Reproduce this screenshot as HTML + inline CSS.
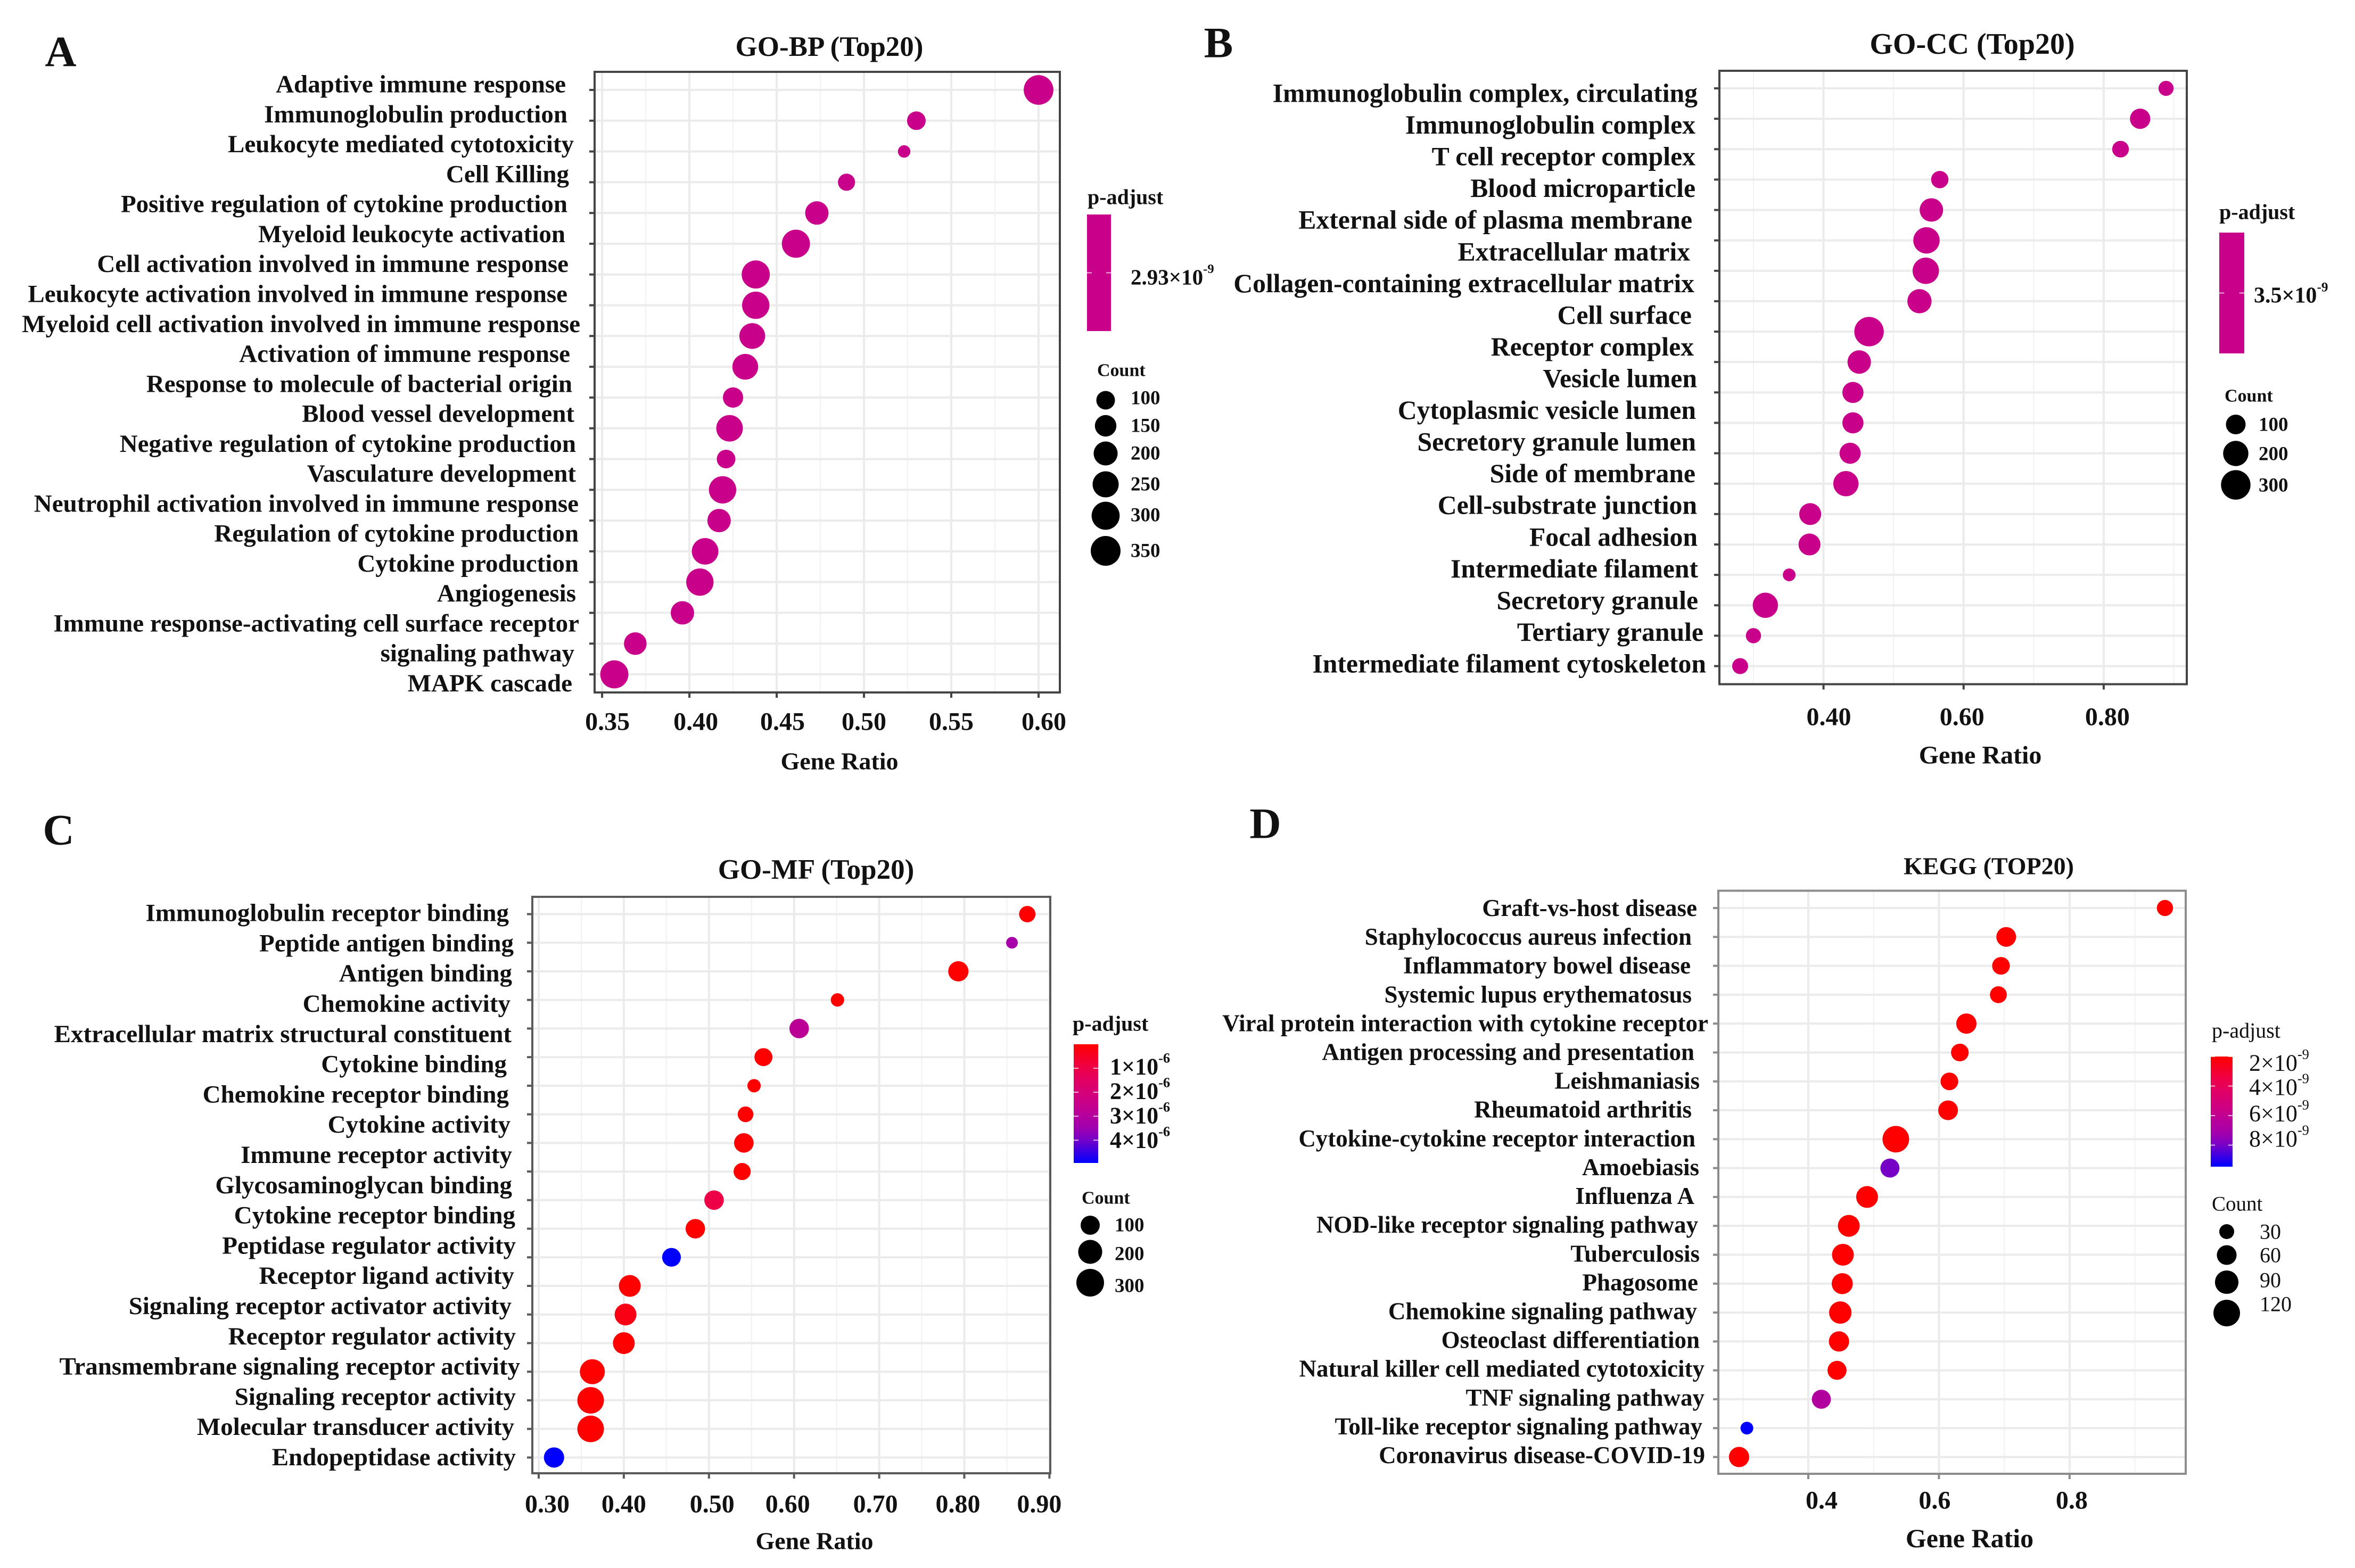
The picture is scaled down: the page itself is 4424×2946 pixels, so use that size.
<!DOCTYPE html>
<html lang="en">
<head>
<meta charset="utf-8">
<title>GO and KEGG enrichment dot plots</title>
<style>
html,body{margin:0;padding:0;background:#fff;}
svg{display:block;}
text{font-family:"Liberation Serif","Times New Roman",serif;fill:#111;}
</style>
</head>
<body>
<svg id="figure" xmlns="http://www.w3.org/2000/svg" width="4424" height="2946" viewBox="0 0 4424 2946"><rect x="0" y="0" width="4424" height="2946" fill="#ffffff"/></svg>
<script>
// ---------- GO-BP data ----------
const bpCategories = ['Adaptive immune response','Immunoglobulin production','Leukocyte mediated cytotoxicity','Cell Killing','Positive regulation of cytokine production','Myeloid leukocyte activation','Cell activation involved in immune response','Leukocyte activation involved in immune response','Myeloid cell activation involved in immune response','Activation of immune response','Response to molecule of bacterial origin','Blood vessel development','Negative regulation of cytokine production','Vasculature development','Neutrophil activation involved in immune response','Regulation of cytokine production','Cytokine production','Angiogenesis','Immune response-activating cell surface receptor','signaling pathway','MAPK cascade'];
const bpGeneRatio = [0.600,0.530,0.523,0.490,0.473,0.461,0.438,0.438,0.436,0.432,0.425,0.423,0.421,0.419,0.417,0.409,0.406,0.396,0.369,0.357];
const bpCount = [346,100,27,78,188,303,303,282,242,242,128,262,100,282,188,262,282,188,172,303];
const bpPadjust = [2.93e-9,2.93e-9,2.93e-9,2.93e-9,2.93e-9,2.93e-9,2.93e-9,2.93e-9,2.93e-9,2.93e-9,2.93e-9,2.93e-9,2.93e-9,2.93e-9,2.93e-9,2.93e-9,2.93e-9,2.93e-9,2.93e-9,2.93e-9];
const bpXTicks = [0.35,0.40,0.45,0.50,0.55,0.60];
const bpXTickLabels = ['0.35','0.40','0.45','0.50','0.55','0.60'];
const bpPadjustTicks = [2.93e-9];
const bpPadjustLabels = ['2.93×10^-9'];
const bpLegendCounts = [100,150,200,250,300,350];

// ---------- GO-CC data ----------
const ccCategories = ['Immunoglobulin complex, circulating','Immunoglobulin complex','T cell receptor complex','Blood microparticle','External side of plasma membrane','Extracellular matrix','Collagen-containing extracellular matrix','Cell surface','Receptor complex','Vesicle lumen','Cytoplasmic vesicle lumen','Secretory granule lumen','Side of membrane','Cell-substrate junction','Focal adhesion','Intermediate filament','Secretory granule','Tertiary granule','Intermediate filament cytoskeleton'];
const ccGeneRatio = [0.889,0.852,0.824,0.566,0.554,0.547,0.546,0.537,0.465,0.451,0.442,0.442,0.438,0.432,0.381,0.380,0.351,0.317,0.300,0.281];
const ccCount = [43,110,60,68,164,225,225,178,300,164,123,123,123,200,136,136,23,200,44,52];
const ccPadjust = [3.5e-9,3.5e-9,3.5e-9,3.5e-9,3.5e-9,3.5e-9,3.5e-9,3.5e-9,3.5e-9,3.5e-9,3.5e-9,3.5e-9,3.5e-9,3.5e-9,3.5e-9,3.5e-9,3.5e-9,3.5e-9,3.5e-9,3.5e-9];
const ccXTicks = [0.40,0.60,0.80];
const ccXTickLabels = ['0.40','0.60','0.80'];
const ccPadjustTicks = [3.5e-9];
const ccPadjustLabels = ['3.5×10^-9'];
const ccLegendCounts = [100,200,300];

// ---------- GO-MF data ----------
const mfCategories = ['Immunoglobulin receptor binding','Peptide antigen binding','Antigen binding','Chemokine activity','Extracellular matrix structural constituent','Cytokine binding','Chemokine receptor binding','Cytokine activity','Immune receptor activity','Glycosaminoglycan binding','Cytokine receptor binding','Peptidase regulator activity','Receptor ligand activity','Signaling receptor activator activity','Receptor regulator activity','Transmembrane signaling receptor activity','Signaling receptor activity','Molecular transducer activity','Endopeptidase activity'];
const mfGeneRatio = [0.874,0.856,0.793,0.651,0.606,0.564,0.553,0.543,0.541,0.539,0.506,0.484,0.456,0.407,0.402,0.400,0.363,0.361,0.361,0.318];
const mfCount = [58,13,120,25,106,81,25,49,106,68,106,106,93,151,151,151,225,269,269,120];
const mfPadjust = [1e-8,3.3e-6,1e-8,1e-8,2.8e-6,1e-8,1e-8,1e-8,1e-8,1e-8,1e-6,1e-8,4.95e-6,1e-8,3e-7,1e-8,1e-8,1e-8,1e-8,4.95e-6];
const mfXTicks = [0.30,0.40,0.50,0.60,0.70,0.80,0.90];
const mfXTickLabels = ['0.30','0.40','0.50','0.60','0.70','0.80','0.90'];
const mfPadjustTicks = [1e-6,2e-6,3e-6,4e-6];
const mfPadjustLabels = ['1×10^-6','2×10^-6','3×10^-6','4×10^-6'];
const mfLegendCounts = [100,200,300];

// ---------- KEGG data ----------
const keggCategories = ['Graft-vs-host disease','Staphylococcus aureus infection','Inflammatory bowel disease','Systemic lupus erythematosus','Viral protein interaction with cytokine receptor','Antigen processing and presentation','Leishmaniasis','Rheumatoid arthritis','Cytokine-cytokine receptor interaction','Amoebiasis','Influenza A','NOD-like receptor signaling pathway','Tuberculosis','Phagosome','Chemokine signaling pathway','Osteoclast differentiation','Natural killer cell mediated cytotoxicity','TNF signaling pathway','Toll-like receptor signaling pathway','Coronavirus disease-COVID-19'];
const keggGeneRatio = [0.946,0.703,0.695,0.691,0.642,0.632,0.616,0.614,0.534,0.525,0.490,0.462,0.453,0.452,0.449,0.447,0.444,0.420,0.306,0.294];
const keggCount = [37,60,46,41,64,46,46,60,120,55,76,76,76,70,81,64,55,55,20,64];
const keggPadjust = [2e-9,2e-9,2e-9,2e-9,2e-9,2e-9,2e-9,2e-9,2e-9,8e-9,2e-9,2e-9,2e-9,2e-9,2e-9,2e-9,2e-9,6.6e-9,9.46e-9,2e-9];
const keggXTicks = [0.4,0.6,0.8];
const keggXTickLabels = ['0.4','0.6','0.8'];
const keggPadjustTicks = [2e-9,4e-9,6e-9,8e-9];
const keggPadjustLabels = ['2×10^-9','4×10^-9','6×10^-9','8×10^-9'];
const keggLegendCounts = [30,60,90,120];

// ---------- colour ramp (red to blue through Lab-like magenta) ----------
const rampColours = [[255,0,0],[234,0,88],[200,0,138],[152,0,184],[0,0,255]];
const rampStops = [0,0.25,0.5,0.75,1];

function rampColour(t){
  const c = Math.max(0, Math.min(1, t));
  let i = 0;
  while (i < rampStops.length - 2 && c > rampStops[i + 1]) i++;
  const f = (c - rampStops[i]) / (rampStops[i + 1] - rampStops[i]);
  const a = rampColours[i], b = rampColours[i + 1];
  return 'rgb(' + [0,1,2].map(function(k){ return Math.round(a[k] + (b[k] - a[k]) * f); }).join(',') + ')';
}

// ---------- panel layouts ----------
const panels = [
  {key:'go-bp', letter:'A', letterX:114, letterY:97, title:'GO-BP (Top20)', titleX:1558, titleY:88, titleSize:53,
   categories:bpCategories, ratio:bpGeneRatio, count:bpCount, padj:bpPadjust, xTicks:bpXTicks, xTickLabels:bpXTickLabels,
   padjTicks:bpPadjustTicks, padjLabels:bpPadjustLabels, legendCounts:bpLegendCounts,
   left:1117, right:1991, top:135, bottom:1301, xDomain:[0.3457,0.6122], rowFirst:169, rowLast:1267,
   labelRight:1078, labelFirst:158.6, labelLast:1284, labelSize:47,
   labelNudge:[-15,-12,0,-9,-12,-16,-10,-12,12,-7,-3,1,4,4,9,9,9,4,10,1,-3],
   tickLabelY:1356, tickNudge:[10,12,11,0,0,10], xTitleX:1577, xTitleY:1430, xTitleSize:46,
   sizeRef:[100,17.5,350,28], padjDomain:[0,5.86e-9],
   barLeft:2042, barRight:2087, barTop:403, barBottom:622, padjTitleX:2043, padjTitleY:370,
   padjLabelX:2124, padjLabelNudge:[8], countTitleX:2061, countTitleY:696, legendDotX:2077, legendLabelX:2124,
   legendDotY:[752,800,852,910,969,1035], legendLabelY:[748,800,852,910,968,1035], axisColour:'#444', axisWidth:4, legendWeight:'bold', legendSize:37, barLabelSize:41},
  {key:'go-cc', letter:'B', letterX:2289, letterY:80, title:'GO-CC (Top20)', titleX:3705, titleY:83, titleSize:56,
   categories:ccCategories, ratio:ccGeneRatio, count:ccCount, padj:ccPadjust, xTicks:ccXTicks, xTickLabels:ccXTickLabels,
   padjTicks:ccPadjustTicks, padjLabels:ccPadjustLabels, legendCounts:ccLegendCounts,
   left:3230, right:4108, top:133, bottom:1285.5, xDomain:[0.2514,0.9186], rowFirst:166, rowLast:1251.5,
   labelRight:3189, labelFirst:175, labelLast:1247, labelSize:49.7,
   labelNudge:[0,-4,-4,-4,-10,-14,-6,-11,-7,-1,-3,-3,-4,-1,0,1,1,11,16],
   tickLabelY:1347, tickNudge:[10,-3,7], xTitleX:3720, xTitleY:1419, xTitleSize:48,
   sizeRef:[100,18.5,300,27.7], padjDomain:[0,7e-9],
   barLeft:4169, barRight:4216, barTop:437, barBottom:664, padjTitleX:4169, padjTitleY:398,
   padjLabelX:4234, padjLabelNudge:[5], countTitleX:4179, countTitleY:744, legendDotX:4200, legendLabelX:4243,
   legendDotY:[797.5,852,911], legendLabelY:[798,853,912], axisColour:'#444', axisWidth:4, legendWeight:'bold', legendSize:37, barLabelSize:42},
  {key:'go-mf', letter:'C', letterX:110, letterY:1559, title:'GO-MF (Top20)', titleX:1533, titleY:1634, titleSize:53,
   categories:mfCategories, ratio:mfGeneRatio, count:mfCount, padj:mfPadjust, xTicks:mfXTicks, xTickLabels:mfXTickLabels,
   padjTicks:mfPadjustTicks, padjLabels:mfPadjustLabels, legendCounts:mfLegendCounts,
   left:1000, right:1973, top:1685, bottom:2768, xDomain:[0.2925,0.901], rowFirst:1717.5, rowLast:2738.4,
   labelRight:965, labelFirst:1715.6, labelLast:2738, labelSize:47,
   labelNudge:[-9,0,-3,-6,-4,-13,-9,-6,-3,-3,3,4,1,-4,4,12,4,1,4],
   tickLabelY:2826, tickNudge:[16,0,6,-12,-7,-12,-19], xTitleX:1530, xTitleY:2895, xTitleSize:46,
   sizeRef:[100,18,300,26], padjDomain:[0,4.95e-6],
   barLeft:2017, barRight:2063, barTop:1962, barBottom:2185, padjTitleX:2015, padjTitleY:1923,
   padjLabelX:2085, padjLabelNudge:[-3,-2,-1,0], countTitleX:2032, countTitleY:2251, legendDotX:2048, legendLabelX:2094,
   legendDotY:[2302,2352,2410], legendLabelY:[2302,2356,2416], axisColour:'#5a5a5a', axisWidth:4, legendWeight:'bold', legendSize:37, barLabelSize:44},
  {key:'kegg', letter:'D', letterX:2377, letterY:1547, title:'KEGG (TOP20)', titleX:3736, titleY:1627, titleSize:46,
   categories:keggCategories, ratio:keggGeneRatio, count:keggCount, padj:keggPadjust, xTicks:keggXTicks, xTickLabels:keggXTickLabels,
   padjTicks:keggPadjustTicks, padjLabels:keggPadjustLabels, legendCounts:keggLegendCounts,
   left:3228, right:4106, top:1673.5, bottom:2769, xDomain:[0.2623,0.9778], rowFirst:1706, rowLast:2737.5,
   labelRight:3189, labelFirst:1706, labelLast:2734, labelSize:45,
   labelNudge:[-1,-11,-13,-11,20,-6,4,-11,-4,3,-6,1,4,1,-1,4,13,13,9,14],
   tickLabelY:2819, tickNudge:[25,-8,4], xTitleX:3700, xTitleY:2890, xTitleSize:50,
   sizeRef:[30,14,120,25], padjDomain:[2e-9,9.46e-9],
   barLeft:4153, barRight:4194, barTop:1985, barBottom:2192, padjTitleX:4155, padjTitleY:1936,
   padjLabelX:4225, padjLabelNudge:[12,2,-4,-12], countTitleX:4155, countTitleY:2262, legendDotX:4183, legendLabelX:4245,
   legendDotY:[2314,2358,2409,2467], legendLabelY:[2314,2358,2405,2450], axisColour:'#8c8c8c', axisWidth:4, legendWeight:'normal', legendSize:40, barLabelSize:44}
];

const SVG_NS = 'http://www.w3.org/2000/svg';
const figure = document.getElementById('figure');

function make(tag, attrs, parent){
  const node = document.createElementNS(SVG_NS, tag);
  Object.keys(attrs).forEach(function(k){ node.setAttribute(k, attrs[k]); });
  (parent || figure).appendChild(node);
  return node;
}

function writeLabel(node, label){
  const parts = label.split('^');
  node.appendChild(document.createTextNode(parts[0]));
  if (parts[1]) {
    const size = parseFloat(node.getAttribute('font-size'));
    const sup = make('tspan', {'font-size': size * 0.6, dy: -size * 0.38}, node);
    sup.textContent = parts[1];
  }
}

panels.forEach(function(p, pi){
  const g = make('g', {});
  
  

  // axis functions
  const xScale = function(v){ return p.left + (v - p.xDomain[0]) / (p.xDomain[1] - p.xDomain[0]) * (p.right - p.left); };
  const yScale = function(i){ return p.rowFirst + i * (p.rowLast - p.rowFirst) / (p.ratio.length - 1); };
  const labelY = function(i){ return p.labelFirst + i * (p.labelLast - p.labelFirst) / (p.categories.length - 1); };
  const rScale = function(c){
    const ref = p.sizeRef;
    const k = (ref[3] - ref[1]) / (Math.sqrt(ref[2]) - Math.sqrt(ref[0]));
    return Math.max(6, ref[1] + (Math.sqrt(c) - Math.sqrt(ref[0])) * k);
  };
  const colourT = function(v){ return (v - p.padjDomain[0]) / (p.padjDomain[1] - p.padjDomain[0]); };
  const barY = function(v){ return p.barTop + colourT(v) * (p.barBottom - p.barTop); };

  // panel letter
  const letter = make('text', {x:p.letterX, y:p.letterY, 'font-size':82, 'font-weight':'bold', 'text-anchor':'middle', 'dominant-baseline':'central'}, g);
  
  
  letter.textContent = p.letter;

  // title
  const title = make('text', {x:p.titleX, y:p.titleY, 'font-size':p.titleSize, 'font-weight':'bold', 'text-anchor':'middle', 'dominant-baseline':'central'}, g);
  
  
  title.textContent = p.title;

  // minor vertical grid
  for (let i = 0; i <= p.xTicks.length; i++) {
    const step = p.xTicks[1] - p.xTicks[0];
    const v = i === 0 ? p.xTicks[0] - step / 2 : p.xTicks[i - 1] + step / 2;
    if (v <= p.xDomain[0] || v >= p.xDomain[1]) continue;
    const minor = make('line', {x1:xScale(v), x2:xScale(v), y1:p.top, y2:p.bottom, stroke:'#f1f1f1', 'stroke-width':2}, g);
    
    
  }

  // major vertical grid, ticks and tick labels
  p.xTicks.forEach(function(v, i){
    const grid = make('line', {x1:xScale(v), x2:xScale(v), y1:p.top, y2:p.bottom, stroke:'#ebebeb', 'stroke-width':4}, g);
    
    
    const tick = make('line', {x1:xScale(v), x2:xScale(v), y1:p.bottom, y2:p.bottom + 10, stroke:p.axisColour, 'stroke-width':4}, g);
    
    
    const lab = make('text', {x:xScale(v) + p.tickNudge[i], y:p.tickLabelY, 'font-size':48, 'font-weight':'bold', 'text-anchor':'middle', 'dominant-baseline':'central'}, g);
    
    
    lab.textContent = p.xTickLabels[i];
  });

  // horizontal grid and ticks, one per plotted row
  p.ratio.forEach(function(v, i){
    const grid = make('line', {x1:p.left, x2:p.right, y1:yScale(i), y2:yScale(i), stroke:'#ebebeb', 'stroke-width':4}, g);
    
    
    const tick = make('line', {x1:p.left - 10, x2:p.left, y1:yScale(i), y2:yScale(i), stroke:p.axisColour, 'stroke-width':4}, g);
    
    
  });

  // category labels
  p.categories.forEach(function(name, i){
    const lab = make('text', {x:p.labelRight + p.labelNudge[i], y:labelY(i), 'font-size':p.labelSize, 'font-weight':'bold', 'text-anchor':'end', 'dominant-baseline':'central'}, g);
    
    
    lab.textContent = name;
  });

  // plot border
  const border = make('rect', {x:p.left, y:p.top, width:p.right - p.left, height:p.bottom - p.top, fill:'none', stroke:p.axisColour, 'stroke-width':p.axisWidth}, g);
  
  

  // dots
  p.ratio.forEach(function(v, i){
    const dot = make('circle', {cx:xScale(v), cy:yScale(i), r:rScale(p.count[i]), fill:rampColour(colourT(p.padj[i]))}, g);
    
    
  });

  // x axis title
  const xTitle = make('text', {x:p.xTitleX, y:p.xTitleY, 'font-size':p.xTitleSize, 'font-weight':'bold', 'text-anchor':'middle', 'dominant-baseline':'central'}, g);
  
  
  xTitle.textContent = 'Gene Ratio';

  // p-adjust legend
  const padjTitle = make('text', {x:p.padjTitleX, y:p.padjTitleY, 'font-size':40, 'font-weight':p.legendWeight, 'dominant-baseline':'central'}, g);
  
  
  padjTitle.textContent = 'p-adjust';

  const gradId = 'bar-gradient-' + pi;
  const defs = make('defs', {}, g);
  const grad = make('linearGradient', {id:gradId, x1:0, y1:0, x2:0, y2:1}, defs);
  const tMin = colourT(Math.min.apply(null, p.padj));
  const tMax = colourT(Math.max.apply(null, p.padj));
  for (let s = 0; s <= 10; s++) {
    make('stop', {offset:s / 10, 'stop-color':rampColour(tMin + (tMax - tMin) * s / 10)}, grad);
  }
  const bar = make('rect', {x:p.barLeft, y:p.barTop, width:p.barRight - p.barLeft, height:p.barBottom - p.barTop, fill:'url(#' + gradId + ')'}, g);
  
  

  p.padjTicks.forEach(function(v, i){
    const w = (p.barRight - p.barLeft) / 5;
    [[p.barLeft, p.barLeft + w], [p.barRight - w, p.barRight]].forEach(function(seg){
      const mark = make('line', {x1:seg[0], x2:seg[1], y1:barY(v), y2:barY(v), stroke:'#ffffff', 'stroke-opacity':0.7, 'stroke-width':2}, g);
      
      
    });
    const lab = make('text', {x:p.padjLabelX, y:barY(v) + p.padjLabelNudge[i], 'font-size':p.barLabelSize, 'font-weight':p.legendWeight, 'dominant-baseline':'central'}, g);
    
    
    writeLabel(lab, p.padjLabels[i]);
  });

  // count legend
  const countTitle = make('text', {x:p.countTitleX, y:p.countTitleY, 'font-size':p.legendWeight === 'bold' ? 34 : 39, 'font-weight':p.legendWeight, 'dominant-baseline':'central'}, g);
  
  
  countTitle.textContent = 'Count';

  p.legendCounts.forEach(function(c, i){
    const key = make('circle', {cx:p.legendDotX, cy:p.legendDotY[i], r:rScale(c), fill:'#000000'}, g);
    
    
    const lab = make('text', {x:p.legendLabelX, y:p.legendLabelY[i], 'font-size':p.legendSize, 'font-weight':p.legendWeight, 'dominant-baseline':'central'}, g);
    
    
    lab.textContent = String(c);
  });
});
</script>
</body>
</html>
